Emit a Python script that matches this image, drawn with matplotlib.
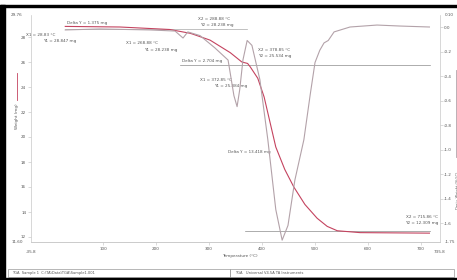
import matplotlib
matplotlib.use("Agg")
import matplotlib.pyplot as plt
from matplotlib.patches import Rectangle
from matplotlib.lines import Line2D

# weight curve (TGA), temperature in C, weight in mg
temp_w = [28.83, 132, 226, 264, 268.88, 302, 340, 362, 372.85, 378, 392, 404, 415,
          426, 443, 460, 481, 504, 523, 542, 585, 715.86]
weight = [28.847, 28.80, 28.60, 28.30, 28.238, 27.75, 26.75, 26.0, 25.884, 25.6, 24.7,
          23.2, 21.2, 19.2, 17.4, 16.0, 14.6, 13.5, 12.85, 12.5, 12.35, 12.309]

# derivative curve
temp_d = [28.83, 94, 189, 236, 251, 260, 283, 311, 336, 347, 353, 358, 364, 372, 381,
          396, 411, 426, 438, 449, 462, 479, 491, 500, 509, 517, 525, 536, 566, 617,
          660, 715.86]
deriv = [-0.024, -0.016, -0.024, -0.033, -0.09, -0.04, -0.07, -0.17, -0.27, -0.56,
         -0.65, -0.51, -0.27, -0.11, -0.15, -0.43, -0.92, -1.49, -1.74, -1.62, -1.25,
         -0.92, -0.55, -0.29, -0.19, -0.13, -0.11, -0.04, 0.0, 0.016, 0.008, 0.0]

xticks = [100, 200, 300, 400, 500, 600, 700]
yticks = [12, 14, 16, 18, 20, 22, 24, 26, 28]
y2ticks = [0.0, -0.2, -0.4, -0.6, -0.8, -1.0, -1.2, -1.4, -1.6]

xlim = (-35.8, 735.8)
ylim = (11.6, 29.76)
y2lim = (-1.755, 0.098)

wcol = "#c4435f"
dcol = "#b3a2a9"
gcol = "#8c8c8c"
tcol = "#555555"
fs = 3

fig = plt.figure(figsize=(4.57, 2.80), dpi=100)
ax = fig.add_axes([31/457, 38/280, 409/457, 227/280])
ax2 = ax.twinx()

ax.plot(temp_w, weight, color=wcol, lw=0.8, zorder=3)
ax2.plot(temp_d, deriv, color=dcol, lw=0.8)

ax.set_xlim(xlim)
ax.set_ylim(ylim)
ax2.set_ylim(y2lim)
ax.set_xticks(xticks)
ax.set_yticks(yticks)
ax2.set_yticks(y2ticks)
ax.set_xticklabels([str(t) for t in xticks])
ax.set_yticklabels([str(t) for t in yticks])
ax2.set_yticklabels(["%.1f" % t for t in y2ticks])

for a in (ax, ax2):
    a.set_facecolor("none")
    a.spines["top"].set_visible(False)
    for s in a.spines.values():
        s.set_color("#c8c8c8")
        s.set_linewidth(0.5)
    a.tick_params(labelsize=fs, colors="#c0c0c0", labelcolor=tcol,
                  length=2, width=0.4, pad=1.5)
ax2.tick_params(pad=1)
ax2.spines["left"].set_visible(False)
ax.spines["right"].set_visible(False)

# step analysis lines
ax.plot([245, 717], [25.76, 25.76], color=gcol, lw=0.5)
ax.plot([368, 717], [12.45, 12.45], color=gcol, lw=0.5)
ax.plot([28.83, 372], [28.62, 28.62], color="#a8a8a8", lw=0.5)

def lab(x, y, s, ha="left"):
    ax.text(x, y, s, fontsize=fs, color=tcol, ha=ha, va="center")

lab(11, 28.16, "X1 = 28.83 °C", "right")
lab(49, 27.68, "Y1 = 28.847 mg", "right")
lab(32, 29.12, "Delta Y = 1.375 mg")
lab(279, 29.44, "X2 = 288.88 °C")
lab(283, 28.96, "Y2 = 28.238 mg")
lab(203, 27.52, "X1 = 268.88 °C", "right")
lab(241, 26.96, "Y1 = 28.238 mg", "right")
lab(249, 26.05, "Delta Y = 2.704 mg")
lab(343, 24.56, "X1 = 372.85 °C", "right")
lab(373, 24.08, "Y1 = 25.884 mg", "right")
lab(392, 26.96, "X2 = 378.85 °C")
lab(392, 26.48, "Y2 = 25.534 mg")
lab(336, 18.8, "Delta Y = 13.418 mg")
lab(732, 13.6, "X2 = 715.86 °C", "right")
lab(732, 13.12, "Y2 = 12.309 mg", "right")

# axis limit labels
ax.text(0, -0.035, "%.1f" % xlim[0], transform=ax.transAxes, fontsize=fs,
        color=tcol, ha="center", va="top")
ax.text(1, -0.035, "%.1f" % xlim[1], transform=ax.transAxes, fontsize=fs,
        color=tcol, ha="center", va="top")
ax.text(-0.02, 0, "%.2f" % ylim[0], transform=ax.transAxes, fontsize=fs,
        color=tcol, ha="right", va="center")
ax.text(-0.02, 1, "%.2f" % ylim[1], transform=ax.transAxes, fontsize=fs,
        color=tcol, ha="right", va="center")
ax2.text(1.012, 0, "%.2f" % y2lim[0], transform=ax2.transAxes, fontsize=fs,
         color=tcol, ha="left", va="center")
ax2.text(1.012, 1, "%.2f" % y2lim[1], transform=ax2.transAxes, fontsize=fs,
         color=tcol, ha="left", va="center")

# axis titles
fig.text(240/457, 1 - 256/280, "Temperature (°C)", fontsize=fs, color=tcol,
         ha="center", va="center")
fig.text(17/457, 1 - 116/280, "Weight (mg)", fontsize=fs, color=tcol,
         rotation=90, ha="center", va="center")
fig.add_artist(Line2D([17/457, 17/457], [1 - 100/280, 1 - 73/280], color=wcol, lw=0.6))
fig.text(456.5/457, 1 - 190/280, "Deriv. Weight (%/°C)", fontsize=2.6, color=tcol,
         rotation=90, ha="left", va="center")
fig.add_artist(Line2D([456/457, 456/457], [1 - 157/280, 1 - 70/280], color=dcol, lw=0.6))

# footer boxes
fig.add_artist(Rectangle((8/457, 3/280), 222/457, 8/280, fill=False,
                         ec="#9a9a9a", lw=0.5))
fig.add_artist(Rectangle((230/457, 3/280), 224/457, 8/280, fill=False,
                         ec="#9a9a9a", lw=0.5))
fig.text(12/457, 7/280, "TGA  Sample 1  C:\\TA\\Data\\TGA\\Sample1.001",
         fontsize=2.6, color=tcol, va="center")
fig.text(235/457, 7/280, "TGA   Universal V4.5A TA Instruments",
         fontsize=2.6, color=tcol, va="center")

# black frame
fig.add_artist(Rectangle((0, 0), 5/457, 275/280, color="black"))
fig.add_artist(Rectangle((0, 273/280), 1, 2/280, color="black"))
fig.add_artist(Rectangle((0, 0), 1, 2/280, color="black"))

fig.savefig("out.png", dpi=100)
